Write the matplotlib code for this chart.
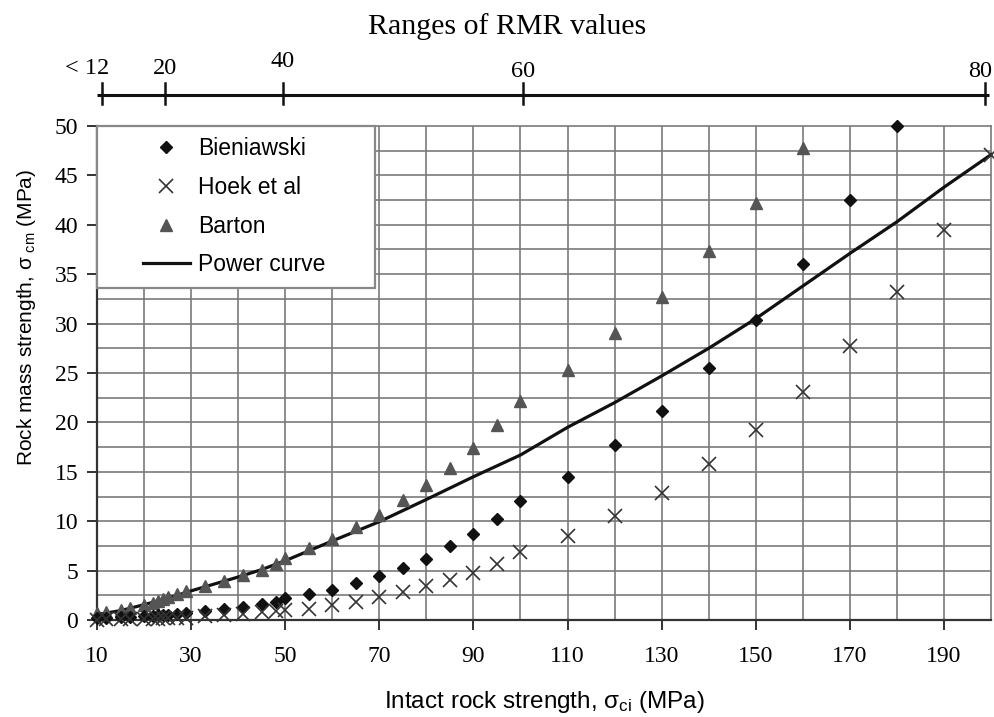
import matplotlib
matplotlib.use("Agg")
import matplotlib.pyplot as plt
from matplotlib.lines import Line2D
from matplotlib.legend_handler import HandlerLine2D

# Intact rock strength values (MPa) at which each estimate is evaluated
sigma_ci_low = [10, 12, 15, 17, 20, 22, 23, 24, 25, 27, 29]
sigma_ci_mid = [33, 37, 41, 45, 48, 50, 55, 60, 65, 70, 75, 80, 85, 90, 95, 100]
sigma_ci_high = [110, 120, 130, 140, 150, 160, 170, 180, 190, 200]

# Rock mass strength estimates (MPa)
bieniawski = ([0.2, 0.25, 0.3, 0.35, 0.4, 0.45, 0.48, 0.5, 0.52, 0.6, 0.68]
              + [0.9, 1.08, 1.35, 1.62, 1.86, 2.19, 2.65, 3.07, 3.71, 4.5, 5.3, 6.2, 7.45, 8.7, 10.2, 12.0]
              + [14.5, 17.7, 21.2, 25.5, 30.4, 36.0, 42.5, 50.0])
hoek = ([0.05, 0.06, 0.08, 0.1, 0.12, 0.14, 0.15, 0.16, 0.17, 0.2, 0.24]
        + [0.4, 0.5, 0.65, 0.8, 0.9, 1.0, 1.1, 1.55, 1.8, 2.35, 2.8, 3.45, 4.05, 4.8, 5.7, 6.85]
        + [8.5, 10.5, 12.9, 15.8, 19.2, 23.1, 27.7, 33.2, 39.5, 47.1])
barton = ([0.7, 0.85, 1.0, 1.2, 1.5, 1.75, 1.95, 2.15, 2.35, 2.65, 2.95]
          + [3.45, 3.9, 4.55, 5.1, 5.7, 6.3, 7.3, 8.15, 9.4, 10.6, 12.1, 13.7, 15.4, 17.4, 19.7, 22.2]
          + [25.3, 29.0, 32.7, 37.3, 42.2, 47.8])

sigma_ci_all = sigma_ci_low + sigma_ci_mid + sigma_ci_high

# Fitted power curve
curve_x = [10, 15, 20, 25, 30, 35, 40, 45, 50, 60, 70, 80, 90, 100,
           110, 120, 130, 140, 150, 160, 170, 180, 190, 200]
curve_y = [0.55, 0.95, 1.55, 2.2, 2.95, 3.65, 4.35, 5.1, 6.0, 8.0, 9.95, 12.2, 14.5, 16.7,
           19.5, 22.0, 24.7, 27.5, 30.5, 33.8, 37.1, 40.3, 43.8, 47.1]

# RMR scale shown above the plot, positioned along the sigma_ci axis
rmr_labels = ["< 12", "20", "40", "60", "80"]
rmr_pos = [11.0, 24.5, 49.5, 100.5, 198.7]

x_ticks = list(range(10, 200, 20))
y_ticks = list(range(0, 51, 5))

W, H = 995, 717
fig = plt.figure(figsize=(W / 100, H / 100), dpi=100)
L, R, T, B = 97, 991, 126, 620
ax = fig.add_axes([L / W, 1 - B / H, (R - L) / W, (B - T) / H])

grid_c = "#7a7a7a"
ax.set_xlim(10, 200)
ax.set_ylim(0, 50)
for gx in range(20, 200, 10):
    ax.axvline(gx, color=grid_c, lw=1.2, zorder=1)
for gy in [i * 2.5 for i in range(1, 20)]:
    ax.axhline(gy, color=grid_c, lw=1.2, zorder=1)

ax.plot(curve_x, curve_y, color="#111111", lw=2.3, zorder=3, clip_on=False)
n_b = len(bieniawski)
n_h = len(hoek)
n_t = len(barton)
ax.plot(sigma_ci_all[:n_t], barton, ls="none", marker="^", ms=8.5,
        color="#555555", zorder=4, clip_on=False)
ax.plot(sigma_ci_all[:n_b], bieniawski, ls="none", marker="D", ms=6.5,
        color="#111111", zorder=5, clip_on=False)
ax.plot(sigma_ci_all[:n_h], hoek, ls="none", marker="x", ms=10, mew=1.2,
        color="#333333", zorder=5, clip_on=False)

for side in ["top", "right"]:
    ax.spines[side].set_color(grid_c)
    ax.spines[side].set_linewidth(1.2)
for side in ["left", "bottom"]:
    ax.spines[side].set_color("#333333")
    ax.spines[side].set_linewidth(1.6)

serif = ["Liberation Serif", "DejaVu Serif"]
sans = ["Liberation Sans", "DejaVu Sans"]
ax.set_xticks(x_ticks)
ax.set_yticks(y_ticks)
ax.set_xticklabels([str(v) for v in x_ticks], family=serif, fontsize=17)
ax.set_yticklabels([str(v) for v in y_ticks], family=serif, fontsize=17)
ax.tick_params(axis="both", direction="out", length=7.5, width=1.4, color="#333333")
ax.tick_params(axis="x", pad=11)
ax.tick_params(axis="y", pad=6)

ax.set_xlabel(r"Intact rock strength, $\mathregular{\sigma_{ci}}$ (MPa)",
              family=sans, fontsize=17.5, labelpad=16)
ax.set_ylabel(r"Rock mass strength, $\mathregular{\sigma_{\ cm}}$ (MPa)",
              family=sans, fontsize=15)
ax.yaxis.set_label_coords(-0.066, 0.613)

handles = [
    Line2D([], [], ls="none", marker="D", ms=6.5, color="#111111"),
    Line2D([], [], ls="none", marker="x", ms=10, mew=1.2, color="#333333"),
    Line2D([], [], ls="none", marker="^", ms=8.5, color="#555555"),
    Line2D([], [], color="#111111", lw=2.3),
]
leg = ax.legend(handles, ["Bieniawski", "Hoek et al", "Barton", "Power curve"],
                loc="upper left", bbox_to_anchor=(0, 0.5, 0.311, 0.5), mode="expand",
                borderaxespad=0, fancybox=False, framealpha=1, edgecolor="#888888",
                prop={"family": sans, "size": 16.5}, handlelength=3.55,
                handletextpad=0.35, labelspacing=0.68, borderpad=0.5,
                handler_map={Line2D: HandlerLine2D(xpad=1.5)})
leg.get_frame().set_linewidth(1.6)
leg.set_zorder(10)

# RMR scale above the plot
axt = fig.add_axes([L / W, 1 - 110 / H, (R - L) / W, 50 / H])
axt.set_xlim(10, 200)
axt.set_ylim(110, 60)
axt.axis("off")
axt.plot([10.0, 199.5], [95, 95], color="#111111", lw=2.2, solid_capstyle="butt")
label_y = [74, 74, 67, 77, 77]
label_dx = [-3.0, 0.0, 0.0, 0.0, -1.0]
for pos, lab, ly, dx in zip(rmr_pos, rmr_labels, label_y, label_dx):
    axt.plot([pos, pos], [83, 104], color="#111111", lw=1.8)
    axt.text(pos + dx, ly, lab, ha="center", va="baseline", family=serif,
             fontsize=17.5, clip_on=False)
fig.text(507 / W, 1 - 27 / H, "Ranges of RMR values", ha="center", va="center",
         family=serif, fontsize=21.5)

fig.savefig("out.png", dpi=100)
